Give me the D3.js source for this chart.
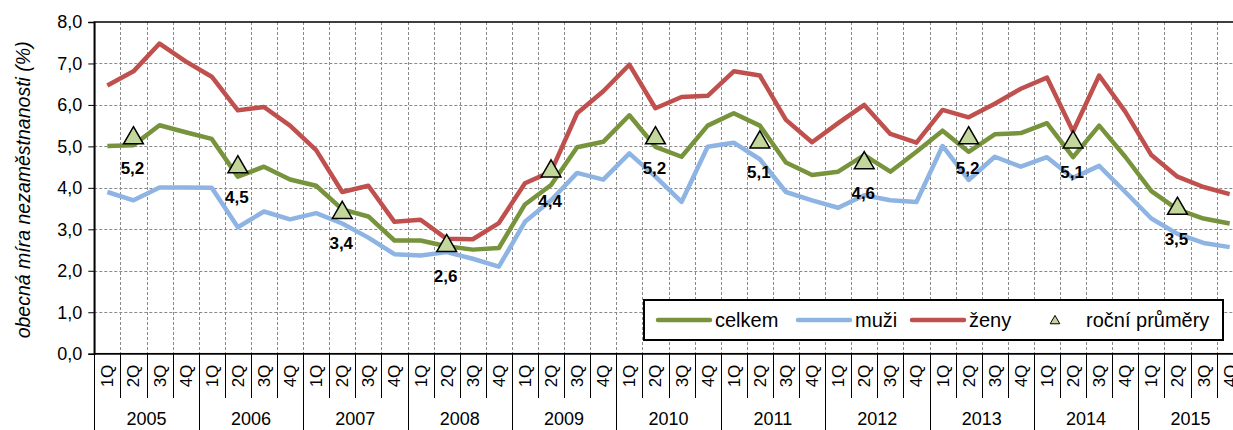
<!DOCTYPE html>
<html>
<head>
<meta charset="utf-8">
<script src="https://cdn.jsdelivr.net/npm/d3@7"></script>
<style>
  body { margin: 0; background: #fff; overflow: hidden; }
  svg { display: block; font-family: "Liberation Sans", Arial, sans-serif; }
</style>
</head>
<body>
<div id="vis"></div>
<script>
const WIDTH = 1233;
const HEIGHT = 430;

// data
const years = ["2005", "2006", "2007", "2008", "2009", "2010", "2011", "2012", "2013", "2014", "2015"];
const quarters = ["1Q", "2Q", "3Q", "4Q"];

const celkem = [5.01, 5.03, 5.51, 5.34, 5.18, 4.27, 4.51, 4.20, 4.05, 3.48, 3.31,
                2.73, 2.73, 2.59, 2.51, 2.55, 3.60, 4.07, 4.98, 5.11, 5.75, 4.99,
                4.75, 5.50, 5.80, 5.50, 4.61, 4.31, 4.39, 4.79, 4.39, 4.87, 5.38,
                4.87, 5.29, 5.32, 5.56, 4.74, 5.50, 4.75, 3.92, 3.48, 3.26, 3.14];
const muzi = [3.90, 3.70, 4.01, 4.01, 4.00, 3.05, 3.43, 3.24, 3.39, 3.14, 2.80,
              2.40, 2.37, 2.45, 2.29, 2.10, 3.18, 3.70, 4.36, 4.20, 4.83, 4.27,
              3.66, 4.99, 5.09, 4.69, 3.90, 3.70, 3.52, 3.82, 3.70, 3.66, 5.01,
              4.19, 4.75, 4.51, 4.74, 4.24, 4.53, 3.90, 3.26, 2.89, 2.67, 2.57];
const zeny = [6.47, 6.81, 7.48, 7.05, 6.68, 5.87, 5.95, 5.50, 4.91, 3.90, 4.05,
              3.18, 3.23, 2.77, 2.76, 3.15, 4.11, 4.39, 5.80, 6.33, 6.97, 5.92,
              6.19, 6.22, 6.81, 6.71, 5.64, 5.10, 5.56, 6.00, 5.30, 5.09, 5.88,
              5.70, 6.03, 6.39, 6.66, 5.36, 6.71, 5.84, 4.79, 4.27, 4.02, 3.85];
const rocniPrumery = [5.2, 4.5, 3.4, 2.6, 4.4, 5.2, 5.1, 4.6, 5.2, 5.1, 3.5];
const yTicks = [0, 1, 2, 3, 4, 5, 6, 7, 8];

const keys = years.flatMap(y => quarters.map(q => y + " " + q));

const PLOT = {left: 94.3, right: 1242.7, top: 22, bottom: 353.7};
const GREEN = "#77933c", BLUE = "#8eb4e3", RED = "#c0504d";

const fmt = d => d.toFixed(1).replace(".", ",");

const svg = d3.select("#vis").append("svg")
  .attr("width", WIDTH)
  .attr("height", HEIGHT);

const X = d3.scaleBand().domain(keys).range([PLOT.left, PLOT.right]).padding(0);
const Y = d3.scaleLinear().domain([0, 8]).range([PLOT.bottom, PLOT.top]);
const cx = k => X(k) + X.bandwidth() / 2;

// gridlines
const grid = svg.append("g").attr("stroke", "#8a8a8a").attr("stroke-width", 1)
  .attr("stroke-dasharray", "3,2");
grid.selectAll("line.h").data(yTicks.filter(d => d > 0 && d < 8)).enter()
  .append("line")
    .attr("x1", PLOT.left).attr("x2", PLOT.right)
    .attr("y1", d => Math.round(Y(d)) + 0.5).attr("y2", d => Math.round(Y(d)) + 0.5);
grid.selectAll("line.v").data(keys.slice(1)).enter()
  .append("line")
    .attr("x1", d => Math.round(X(d)) + 0.5).attr("x2", d => Math.round(X(d)) + 0.5)
    .attr("y1", PLOT.top).attr("y2", PLOT.bottom);

// plot frame
svg.append("rect")
  .attr("x", PLOT.left).attr("y", PLOT.top)
  .attr("width", PLOT.right - PLOT.left).attr("height", PLOT.bottom - PLOT.top)
  .attr("fill", "none").attr("stroke", "#000").attr("stroke-width", 1.5);

// y axis
const yAxis = svg.append("g")
  .attr("transform", "translate(" + PLOT.left + ",0)")
  .call(d3.axisLeft(Y).tickValues(yTicks).tickFormat(fmt).tickSize(6).tickPadding(6));
yAxis.select(".domain").attr("stroke-width", 1.5);
yAxis.selectAll("text").attr("font-size", "18px").attr("fill", "#000")
  .attr("font-family", "Liberation Sans, Arial, sans-serif");

svg.append("text")
  .attr("transform", "translate(25," + ((PLOT.top + PLOT.bottom) / 2 + 2) + ") rotate(-90)")
  .attr("text-anchor", "middle")
  .attr("dominant-baseline", "middle")
  .attr("font-size", "19.5px")
  .attr("font-style", "italic")
  .text("obecná míra nezaměstnanosti (%)");

// x axis: quarters, years, separators
const xAxis = svg.append("g");
xAxis.append("line")
  .attr("x1", PLOT.left).attr("x2", PLOT.right)
  .attr("y1", PLOT.bottom).attr("y2", PLOT.bottom)
  .attr("stroke", "#000").attr("stroke-width", 1.5);
xAxis.selectAll("line.qsep").data(keys).enter()
  .append("line")
    .attr("x1", d => Math.round(X(d)) + 0.5).attr("x2", d => Math.round(X(d)) + 0.5)
    .attr("y1", PLOT.bottom)
    .attr("y2", d => d.endsWith("1Q") ? HEIGHT : 398)
    .attr("stroke", "#000").attr("stroke-width", 1);
xAxis.selectAll("text.q").data(keys).enter()
  .append("text")
    .attr("transform", d => "translate(" + (cx(d) + 6) + ",376) rotate(-90)")
    .attr("text-anchor", "middle")
    .attr("font-size", "17px")
    .text(d => d.split(" ")[1]);
xAxis.selectAll("text.y").data(years).enter()
  .append("text")
    .attr("x", d => X(d + " 1Q") + X.step() * 2)
    .attr("y", 425)
    .attr("text-anchor", "middle")
    .attr("font-size", "18px")
    .text(d => d);

// series lines
const line = d3.line().x((d, i) => cx(keys[i])).y(d => Y(d));
[[celkem, GREEN], [muzi, BLUE], [zeny, RED]].forEach(([s, c]) => {
  svg.append("path")
    .datum(s)
    .attr("d", line)
    .attr("fill", "none")
    .attr("stroke", c)
    .attr("stroke-width", 4.5)
    .attr("stroke-linejoin", "round");
});

// annual averages at 2Q
const tri = d3.symbol(d3.symbolTriangle, 170);
const avg = svg.append("g");
avg.selectAll("path").data(rocniPrumery).enter()
  .append("path")
    .attr("d", tri)
    .attr("transform", (d, i) => "translate(" + cx(years[i] + " 2Q") + "," + Y(d) + ")")
    .attr("fill", "#c3d69b")
    .attr("stroke", "#000")
    .attr("stroke-width", 1.5);
avg.selectAll("text").data(rocniPrumery).enter()
  .append("text")
    .attr("x", (d, i) => cx(years[i] + " 2Q") - 1)
    .attr("y", d => Y(d) + 36)
    .attr("text-anchor", "middle")
    .attr("font-size", "17px")
    .attr("font-weight", "bold")
    .text(fmt);

// legend
const lg = svg.append("g");
lg.append("rect")
  .attr("x", 644).attr("y", 300).attr("width", 579).attr("height", 40)
  .attr("fill", "#fff").attr("stroke", "#000").attr("stroke-width", 2);
const legendItems = [
  {label: "celkem", color: GREEN, x: 658},
  {label: "muži", color: BLUE, x: 798},
  {label: "ženy", color: RED, x: 912}
];
legendItems.forEach(it => {
  lg.append("line")
    .attr("x1", it.x).attr("x2", it.x + 52).attr("y1", 320).attr("y2", 320)
    .attr("stroke", it.color).attr("stroke-width", 4.5).attr("stroke-linecap", "round");
  lg.append("text")
    .attr("x", it.x + 57).attr("y", 327)
    .attr("font-size", "20px")
    .text(it.label);
});
lg.append("path")
  .attr("d", d3.symbol(d3.symbolTriangle, 40))
  .attr("transform", "translate(1055,321)")
  .attr("fill", "#c3d69b").attr("stroke", "#000").attr("stroke-width", 1);
lg.append("text")
  .attr("x", 1086).attr("y", 327)
  .attr("font-size", "20px")
  .text("roční průměry");
</script>
</body>
</html>
